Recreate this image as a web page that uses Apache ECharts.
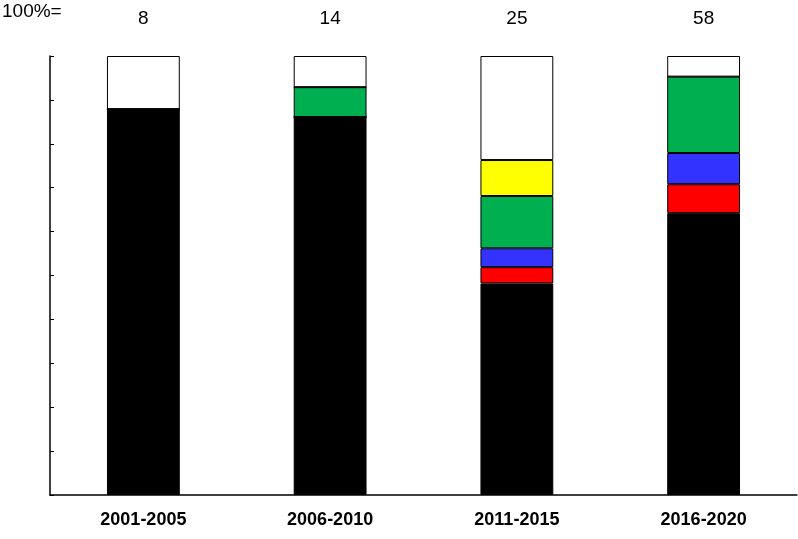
<!DOCTYPE html>
<html>
<head>
<meta charset="utf-8">
<script src="https://cdn.jsdelivr.net/npm/echarts@6/dist/echarts.min.js"></script>
</head>
<body style="margin:0;background:#fff">
<div id="main" style="width:798px;height:539px;"></div>
<script>
var periods = ['2001-2005', '2006-2010', '2011-2015', '2016-2020'];
var totals = ['8', '14', '25', '58'];
// share of each group in percent, bottom to top
var blackVals = [87.9, 86.1, 48.2, 64.2];
var redVals = [0, 0, 3.7, 6.6];
var blueVals = [0, 0, 4.3, 7.1];
var greenVals = [0, 6.8, 11.9, 17.4];
var yellowVals = [0, 0, 8.2, 0];
var whiteVals = [12.1, 7.1, 23.7, 4.7];

var chart = echarts.init(document.getElementById('main'));

function part(name, data, color) {
    return {
        name: name, type: 'bar', stack: 'all', data: data, barWidth: '39%',
        itemStyle: {color: color, borderColor: '#000', borderWidth: 1},
        silent: true
    };
}

chart.setOption({
    animation: false,
    backgroundColor: '#fff',
    grid: {left: 50, right: 1, top: 56, bottom: 44},
    xAxis: [{
        type: 'category', data: periods,
        axisLine: {lineStyle: {color: '#000', width: 1.5}},
        axisTick: {show: false},
        axisLabel: {color: '#000', fontSize: 18, fontWeight: 'bold', fontFamily: 'Liberation Sans', margin: 16}
    }, {
        type: 'category', data: totals, position: 'top',
        axisLine: {show: false}, axisTick: {show: false},
        axisLabel: {color: '#000', fontSize: 19, fontFamily: 'Liberation Sans', margin: 28}
    }],
    yAxis: {
        type: 'value', min: 0, max: 100, interval: 10,
        axisLine: {show: true, lineStyle: {color: '#000', width: 1.5}},
        axisTick: {show: true, inside: true, length: 4, lineStyle: {color: '#000'}},
        axisLabel: {show: false},
        splitLine: {show: false}
    },
    graphic: [{
        type: 'text', left: 2, top: 2,
        style: {text: '100%=', fill: '#000', fontSize: 19, fontFamily: 'Liberation Sans'}
    }],
    series: [
        part('black', blackVals, '#000000'),
        part('red', redVals, '#ff0000'),
        part('blue', blueVals, '#3333ff'),
        part('green', greenVals, '#00b050'),
        part('yellow', yellowVals, '#ffff00'),
        part('white', whiteVals, '#ffffff')
    ]
});
</script>
</body>
</html>
